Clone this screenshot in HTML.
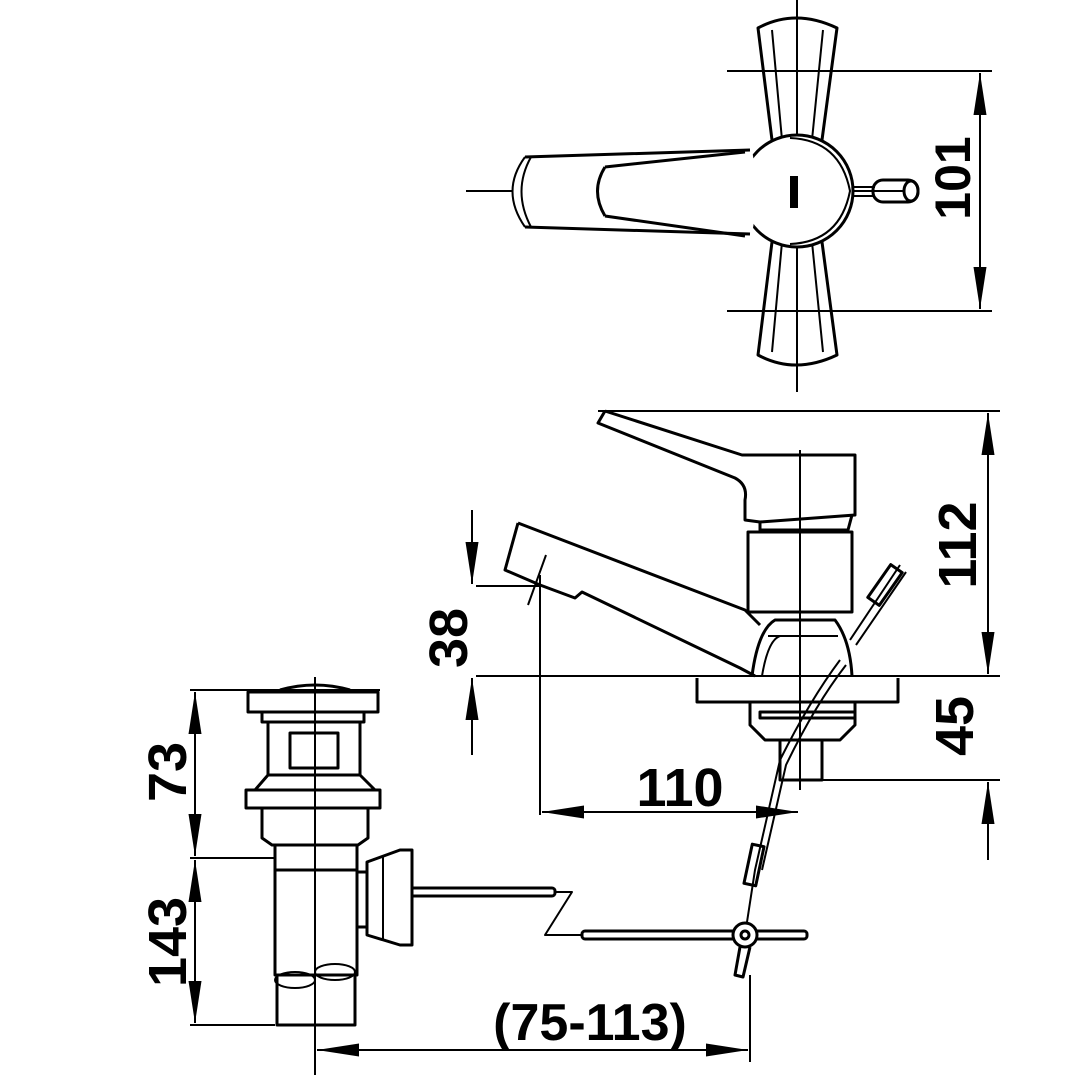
<!DOCTYPE html>
<html><head><style>html,body{margin:0;padding:0;background:#fff}svg{display:block}
text{font-family:"Liberation Sans",sans-serif;font-weight:bold;fill:#000}</style></head>
<body>
<svg width="1090" height="1090" viewBox="0 0 1090 1090" xmlns="http://www.w3.org/2000/svg">
<defs>
<marker id="a" viewBox="0 0 10 10" refX="10" refY="5" markerWidth="42" markerHeight="13" orient="auto-start-reverse" markerUnits="userSpaceOnUse" preserveAspectRatio="none"><path d="M0,0L10,5L0,10z" fill="#000"/></marker>
</defs>
<g fill="none" stroke="#000" stroke-width="3" stroke-linejoin="round">
<!-- TOP VIEW -->
<line x1="797" y1="0" x2="797" y2="392" stroke-width="2"/>
<line x1="466" y1="191" x2="905" y2="191" stroke-width="2"/>
<path d="M758,28 Q795,8 837,28 L822,140 L772,140 Z"/>
<path d="M772,30 L782,140 M823,30 L812,140" stroke-width="2"/>
<path d="M758,355 Q795,375 837,355 L822,242 L772,242 Z"/>
<path d="M772,352 L782,242 M823,352 L812,242" stroke-width="2"/>
<circle cx="797" cy="191" r="56" fill="#fff"/>
<path d="M790,138 Q840,140 850,191 Q840,242 790,244" stroke-width="2"/>
<path d="M525,157 L752,150 Q760,191 752,234 L525,227 Q500,191 525,157Z" fill="#fff" stroke="none"/>
<path d="M525,157 L750,150 M525,227 L750,234"/>
<path d="M525,157 Q500,191 525,227 M531,157 Q512,191 531,227" stroke-width="2"/>
<path d="M605,167 L745,152 M605,216 L745,236 M605,167 Q590,191 605,216"/>
<rect x="790" y="176" width="8" height="32" fill="#000" stroke="none"/>
<path d="M853,187 L875,187 M853,196 L875,196" stroke-width="2"/>
<rect x="873" y="180" width="45" height="22" rx="10"/>
<ellipse cx="911" cy="191" rx="7" ry="10"/>
<line x1="727" y1="71" x2="992" y2="71" stroke-width="2"/>
<line x1="727" y1="311" x2="992" y2="311" stroke-width="2"/>
<line x1="980" y1="73" x2="980" y2="309" stroke-width="2" marker-start="url(#a)" marker-end="url(#a)"/>

<!-- SIDE VIEW -->
<line x1="598" y1="411" x2="1000" y2="411" stroke-width="2"/>
<line x1="988" y1="413" x2="988" y2="674" stroke-width="2" marker-start="url(#a)" marker-end="url(#a)"/>
<line x1="800" y1="450" x2="800" y2="790" stroke-width="2"/>
<path d="M605,411 L598,423 L735,478 Q748,485 745,500 L745,520 L760,522 M605,411 L742,455 L855,455 L855,515 L760,522"/>
<path d="M760,522 L760,530 L848,530 L852,515"/>
<rect x="748" y="532" width="104" height="80"/>
<path d="M518,523 L505,570 L540,585 L575,598 L582,592 L740,668 L755,676"/>
<path d="M518,523 L745,610 L760,625"/>
<path d="M752,676 Q758,630 775,620 L835,620 Q850,640 852,676"/>
<path d="M768,636 L838,636 M762,676 Q768,640 780,636" stroke-width="2"/>
<line x1="476" y1="676" x2="1000" y2="676" stroke-width="2"/>
<path d="M697,678 L697,702 L898,702 L898,678"/>
<path d="M750,702 L750,725 L765,740 L840,740 L855,725 L855,702"/>
<rect x="760" y="712" width="95" height="6"/>
<rect x="780" y="740" width="42" height="40"/>
<line x1="800" y1="780" x2="1000" y2="780" stroke-width="2"/>
<line x1="988" y1="860" x2="988" y2="782" stroke-width="2" marker-end="url(#a)"/>
<line x1="472" y1="510" x2="472" y2="584" stroke-width="2" marker-end="url(#a)"/>
<line x1="472" y1="755" x2="472" y2="678" stroke-width="2" marker-end="url(#a)"/>
<line x1="476" y1="586" x2="540" y2="586" stroke-width="2"/>
<line x1="540" y1="575" x2="540" y2="815" stroke-width="2"/>
<line x1="546" y1="555" x2="528" y2="605" stroke-width="2"/>
<line x1="542" y1="812" x2="798" y2="812" stroke-width="2" marker-start="url(#a)" marker-end="url(#a)"/>
<!-- cable -->
<path d="M900,565 L850,640 M906,572 L856,645" stroke-width="2"/>
<rect x="878" y="565" width="14" height="40" transform="rotate(35 885 585)"/>
<path d="M840,660 Q810,700 780,760 L755,870 L745,935 M846,665 Q815,705 786,765 L762,870" stroke-width="2"/>
<rect x="748" y="845" width="12" height="40" transform="rotate(12 754 865)"/>
<!-- rods -->
<rect x="410" y="888" width="145" height="8" rx="3"/>
<path d="M555,892 L572,892 L545,935 L582,935" stroke-width="2"/>
<rect x="582" y="931" width="225" height="8" rx="3"/>
<circle cx="745" cy="935" r="12" fill="#fff"/>
<circle cx="745" cy="935" r="4"/>
<path d="M740,947 L735,975 L743,977 L750,947"/>
<!-- DRAIN -->
<line x1="315" y1="677" x2="315" y2="1075" stroke-width="2"/>
<path d="M280,690 Q315,680 350,690"/>
<rect x="248" y="692" width="130" height="20"/>
<rect x="262" y="712" width="102" height="10"/>
<path d="M268,722 L268,775 L360,775 L360,722"/>
<rect x="290" y="733" width="48" height="35"/>
<path d="M268,775 L255,790 L375,790 L360,775"/>
<rect x="246" y="790" width="134" height="18"/>
<path d="M262,808 L262,838 L272,845 L358,845 L368,838 L368,808"/>
<rect x="275" y="845" width="82" height="25"/>
<rect x="275" y="870" width="82" height="105"/>
<rect x="357" y="872" width="10" height="55"/>
<path d="M367,862 L400,850 L412,850 L412,945 L400,945 L367,935Z" fill="#fff"/>
<path d="M383,855 L383,940" stroke-width="2"/>
<rect x="277" y="975" width="78" height="50"/>
<ellipse cx="295" cy="980" rx="20" ry="8" stroke-width="2"/>
<ellipse cx="335" cy="972" rx="20" ry="8" stroke-width="2"/>
<line x1="190" y1="690" x2="380" y2="690" stroke-width="2"/>
<line x1="190" y1="858" x2="275" y2="858" stroke-width="2"/>
<line x1="190" y1="1025" x2="275" y2="1025" stroke-width="2"/>
<line x1="195" y1="692" x2="195" y2="856" stroke-width="2" marker-start="url(#a)" marker-end="url(#a)"/>
<line x1="195" y1="860" x2="195" y2="1023" stroke-width="2" marker-start="url(#a)" marker-end="url(#a)"/>
<line x1="317" y1="1050" x2="748" y2="1050" stroke-width="2" marker-start="url(#a)" marker-end="url(#a)"/>
<line x1="750" y1="975" x2="750" y2="1062" stroke-width="2"/>
</g>
<text transform="translate(970,178) rotate(-90)" font-size="50" text-anchor="middle">101</text>
<text transform="translate(976,545) rotate(-90)" font-size="54" text-anchor="middle">112</text>
<text transform="translate(973,726) rotate(-90)" font-size="54" text-anchor="middle">45</text>
<text transform="translate(467,638) rotate(-90)" font-size="54" text-anchor="middle">38</text>
<text x="680" y="806" font-size="54" text-anchor="middle">110</text>
<text transform="translate(186,772) rotate(-90)" font-size="54" text-anchor="middle">73</text>
<text transform="translate(186,942) rotate(-90)" font-size="54" text-anchor="middle">143</text>
<text x="590" y="1040" font-size="52" text-anchor="middle">(75-113)</text>
</svg>
</body></html>
